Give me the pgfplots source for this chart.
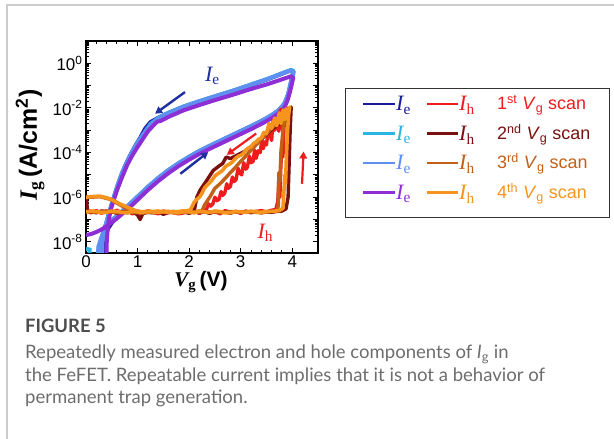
\documentclass[border=0pt]{standalone}
\usepackage{fontspec}
\setmainfont{Liberation Sans}
\newfontfamily\tnr{Liberation Serif}
\newfontfamily\capfont{Lato}
\usepackage{pgfplots}
\pgfplotsset{compat=1.18}
\usetikzlibrary{arrows.meta}
\definecolor{ieA}{HTML}{1A1A9C}
\definecolor{ieB}{HTML}{2BB5E5}
\definecolor{ieC}{HTML}{5F8FF0}
\definecolor{ieD}{HTML}{8E2FD6}
\definecolor{ihA}{HTML}{EE1C1C}
\definecolor{ihB}{HTML}{7B1010}
\definecolor{ihC}{HTML}{C2601A}
\definecolor{ihD}{HTML}{F7941D}
\definecolor{arrblue}{HTML}{1F2FA0}
\definecolor{capgray}{HTML}{6D6D6D}
\definecolor{capdark}{HTML}{4D4D4D}
\begin{document}
\begin{tikzpicture}[x=1bp,y=1bp]
\path[use as bounding box] (0,0) rectangle (614,439);
\fill[white] (0,0) rectangle (614,439);
\draw[black!20, line width=1.2bp] (7,0) -- (7,434) -- (614,434);
\begin{axis}[at={(86bp,186bp)}, anchor=south west, scale only axis,
  width=232bp, height=212bp,
  xmin=0, xmax=4.5, ymode=log, ymin=3.162e-9, ymax=10,
  axis line style={line width=1.8bp},
  every tick/.style={black, line width=0.9bp},
  major tick length=5bp, minor tick length=3bp,
  xtick={0,1,2,3,4}, xticklabels={0,1,2,3,4}, minor x tick num=4,
  ytick={1e-8,1e-7,1e-6,1e-5,1e-4,1e-3,1e-2,1e-1,1,10},
  yticklabels={10\textsuperscript{-8},,10\textsuperscript{-6},,10\textsuperscript{-4},,10\textsuperscript{-2},,10\textsuperscript{0},},
  tick label style={font=\fontsize{17}{17}\selectfont},
  xticklabel style={yshift=1bp},
]
% ---- Ie curves
\addplot[ieA, line width=4bp, line join=round] coordinates {
(0.33,3e-10) (0.35,1.0e-8) (0.40,3.2e-8) (0.50,7.0e-8) (0.60,1.35e-7) (0.80,3.7e-7) (1.00,1.02e-6) (1.20,2.8e-6) (1.40,7.0e-6) (1.60,1.6e-5) (1.80,3.3e-5) (2.00,6.3e-5) (2.20,1.15e-4) (2.40,1.95e-4) (2.60,3.25e-4) (2.80,5.4e-4) (3.00,9.0e-4) (3.20,1.5e-3) (3.40,2.55e-3) (3.60,4.6e-3) (3.75,8.2e-3) (3.85,1.55e-2) (3.92,3.9e-2) (3.97,0.11) (4.01,0.30) (4.02,0.43) (3.97,0.48) (3.90,0.42)
(3.80,0.34) (3.50,0.185) (3.20,0.108) (2.86,5.9e-2) (2.50,3.25e-2) (2.20,1.95e-2) (1.90,1.15e-2) (1.60,6.0e-3) (1.40,3.6e-3) (1.25,2.3e-3) (1.15,1.2e-3) (1.05,4.5e-4) (0.95,1.9e-4) (0.85,7.0e-5) (0.75,2.3e-5) (0.65,5.5e-6) (0.55,1.1e-6) (0.45,2.0e-7) (0.36,3.5e-8) (0.30,1.0e-8) (0.28,3e-10)};
\addplot[ieB, line width=4bp, line join=round] coordinates {
(0.28,3e-10) (0.30,1.0e-8) (0.35,3.16e-8) (0.45,7.94e-8) (0.60,1.41e-7) (0.80,3.80e-7) (1.00,1.05e-6) (1.20,2.88e-6) (1.40,7.24e-6) (1.60,1.62e-5) (1.80,3.39e-5) (2.00,6.46e-5) (2.20,1.17e-4) (2.40,2.00e-4) (2.60,3.31e-4) (2.80,5.50e-4) (3.00,9.12e-4) (3.20,1.51e-3) (3.40,2.57e-3) (3.60,4.68e-3) (3.75,8.32e-3) (3.85,1.58e-2) (3.92,3.98e-2) (3.97,0.112) (4.02,0.316) (4.03,0.447) (3.98,0.501) (3.90,0.437)
(3.80,0.355) (3.50,0.191) (3.20,0.112) (2.86,6.03e-2) (2.50,3.31e-2) (2.20,2.00e-2) (1.90,1.17e-2) (1.60,6.03e-3) (1.40,3.55e-3) (1.25,1.91e-3) (1.12,7.08e-4) (1.00,2.82e-4) (0.90,1.12e-4) (0.80,3.98e-5) (0.70,1.26e-5) (0.60,2.82e-6) (0.50,5.01e-7) (0.40,7.94e-8) (0.32,2.00e-8) (0.25,6.31e-9) (0.22,3e-10)};
\addplot[ieB, line width=4bp] coordinates {(0.00,5.0e-9) (0.07,4.5e-9) (0.08,3e-10)};
\addplot[ieC, line width=4bp, line join=round] coordinates {
(0.30,3e-10) (0.32,1.0e-8) (0.37,3.2e-8) (0.46,8.0e-8) (0.60,1.45e-7) (0.80,3.9e-7) (1.00,1.07e-6) (1.20,2.9e-6) (1.40,7.3e-6) (1.60,1.65e-5) (1.80,3.4e-5) (2.00,6.5e-5) (2.20,1.18e-4) (2.40,2.0e-4) (2.60,3.35e-4) (2.80,5.6e-4) (3.00,9.2e-4) (3.20,1.53e-3) (3.40,2.6e-3) (3.60,4.7e-3) (3.75,8.4e-3) (3.85,1.6e-2) (3.92,4.0e-2) (3.96,0.11) (4.00,0.30) (4.02,0.42) (3.98,0.47) (3.90,0.42)
(3.80,0.35) (3.50,0.19) (3.20,0.11) (2.86,6.0e-2) (2.50,3.3e-2) (2.20,2.0e-2) (1.90,1.15e-2) (1.60,5.8e-3) (1.40,3.4e-3) (1.25,1.8e-3) (1.12,6.8e-4) (1.00,2.7e-4) (0.90,1.1e-4) (0.80,3.9e-5) (0.70,1.25e-5) (0.60,2.8e-6) (0.50,5.0e-7) (0.40,7.5e-8) (0.30,1.6e-8) (0.24,6.0e-9) (0.21,3e-10)};
\addplot[ieD, line width=4bp, line join=round] coordinates {
(0.00,2.00e-8) (0.10,2.24e-8) (0.20,2.75e-8) (0.30,3.55e-8) (0.40,5.01e-8) (0.50,7.41e-8) (0.60,1.12e-7) (0.70,1.78e-7) (0.80,2.82e-7) (0.90,4.57e-7) (1.00,7.59e-7) (1.20,2.09e-6) (1.40,5.25e-6) (1.60,1.20e-5) (1.80,2.51e-5) (2.00,4.79e-5) (2.20,8.71e-5) (2.40,1.48e-4) (2.60,2.45e-4) (2.80,4.07e-4) (3.00,6.76e-4) (3.20,1.12e-3) (3.40,1.91e-3) (3.60,3.47e-3) (3.75,6.03e-3) (3.85,1.05e-2) (3.91,2.24e-2) (3.96,5.62e-2) (4.00,0.141) (4.02,0.224) (3.98,0.263) (3.90,0.229)
(3.80,0.191) (3.50,0.112) (3.20,7.08e-2) (2.86,3.98e-2) (2.50,2.24e-2) (2.20,1.35e-2) (1.90,7.94e-3) (1.60,3.98e-3) (1.45,2.63e-3) (1.38,2.40e-3) (1.30,1.58e-3) (1.20,8.91e-4) (1.10,3.98e-4) (1.00,1.78e-4) (0.90,7.59e-5) (0.80,2.82e-5) (0.70,7.94e-6) (0.60,2.00e-6) (0.50,3.98e-7) (0.45,1.26e-7) (0.42,3.55e-8) (0.40,7.94e-9) (0.40,3e-10)};
% ---- Ih curves
\addplot[ihA, line width=3.4bp, line join=round] coordinates {
(0.0,2.4e-7) (0.05,2.2e-7) (0.1,2.0e-7) (0.15,2.3e-7) (0.2,2.5e-7) (0.3,1.9e-7) (0.35,2.2e-7) (0.4,2.4e-7) (0.5,2.1e-7) (0.55,2.3e-7) (0.6,2.6e-7) (0.7,2.0e-7) (0.8,2.3e-7) (0.85,2.1e-7) (0.9,1.8e-7) (1.0,2.4e-7) (1.1,2.0e-7) (1.15,2.2e-7) (1.2,2.5e-7) (1.3,2.1e-7) (1.4,1.8e-7) (1.5,2.4e-7) (1.6,2.0e-7) (1.7,2.2e-7) (1.8,1.9e-7) (1.9,2.5e-7) (2.0,2.1e-7) (2.1,2.3e-7) (2.2,1.9e-7) (2.3,2.4e-7) (2.4,2.0e-7) (2.5,2.3e-7) (2.6,1.8e-7) (2.7,2.5e-7) (2.8,2.1e-7) (2.9,2.3e-7) (3.0,1.9e-7) (3.1,2.4e-7) (3.2,2.0e-7) (3.3,2.3e-7) (3.4,2.5e-7) (3.5,2.2e-7) (3.6,2.6e-7) (3.68,2.8e-7) (3.72,6.3e-7) (3.74,6.3e-6) (3.76,1.0e-6) (3.78,2.5e-5) (3.80,2.5e-4) (3.82,6.3e-5) (3.84,1.26e-3) (3.86,7.9e-3)
(3.84,2.0e-3) (3.82,6.0e-3) (3.79,1.2e-3) (3.77,8.5e-3) (3.74,9.0e-4) (3.72,3.0e-3) (3.69,1.5e-3) (3.66,1.0e-3) (3.63,2.8e-3) (3.60,3.5e-4) (3.57,6.0e-4) (3.54,1.4e-3) (3.50,2.2e-4) (3.47,3.0e-4) (3.44,1.5e-4) (3.41,4.0e-4) (3.38,1.0e-4) (3.34,1.2e-4) (3.30,5.5e-5) (3.27,1.3e-4) (3.24,4.0e-5) (3.20,3.5e-5) (3.17,7.0e-5) (3.13,2.2e-5) (3.10,1.8e-5) (3.06,3.5e-5) (3.02,1.0e-5) (2.98,1.2e-5) (2.95,2.0e-5) (2.91,6.0e-6) (2.87,5.0e-6) (2.84,8.0e-6) (2.80,3.0e-6) (2.76,2.5e-6) (2.73,4.0e-6) (2.69,1.5e-6) (2.65,1.2e-6) (2.62,1.8e-6) (2.58,8.0e-7) (2.54,7.0e-7) (2.50,1.0e-6) (2.46,5.0e-7) (2.42,4.0e-7) (2.38,5.0e-7) (2.34,3.0e-7) (2.30,2.4e-7) (2.2,2.0e-7) (2.1,2.3e-7) (2.0,2.5e-7) (1.9,2.0e-7) (1.8,1.8e-7) (1.6,2.2e-7) (1.4,2.0e-7) (1.2,2.4e-7) (1.0,1.9e-7) (0.8,2.3e-7) (0.6,2.0e-7) (0.4,2.4e-7) (0.2,2.1e-7) (0.0,2.5e-7)};
\addplot[ihB, line width=3.4bp, line join=round] coordinates {
(0.0,1.26e-6) (0.03,2.5e-7) (0.1,2.2e-7) (0.2,2.0e-7) (0.3,2.4e-7) (0.4,2.1e-7) (0.5,2.3e-7) (0.6,1.9e-7) (0.7,2.2e-7) (0.8,2.0e-7) (0.9,2.3e-7) (1.0,1.6e-7) (1.05,1.0e-7) (1.1,1.8e-7) (1.2,2.2e-7) (1.3,2.0e-7) (1.4,2.3e-7) (1.5,1.7e-7) (1.6,2.1e-7) (1.7,2.3e-7) (1.8,2.0e-7) (1.9,2.2e-7) (2.0,1.9e-7) (2.1,2.3e-7) (2.2,2.0e-7) (2.3,2.2e-7) (2.4,1.9e-7) (2.5,2.3e-7) (2.6,2.1e-7) (2.7,2.2e-7) (2.8,1.9e-7) (2.9,2.3e-7) (3.0,2.0e-7) (3.1,2.2e-7) (3.2,2.1e-7) (3.3,2.3e-7) (3.4,2.0e-7) (3.5,2.2e-7) (3.6,2.1e-7) (3.7,2.3e-7) (3.8,2.4e-7) (3.88,3.0e-7) (3.92,1.0e-6) (3.94,3.2e-5) (3.96,1.0e-3) (3.98,1.1e-2)
(3.95,4.0e-3) (3.92,8.0e-3) (3.88,2.5e-3) (3.85,5.0e-3) (3.80,2.2e-3) (3.70,1.6e-3) (3.60,1.1e-3) (3.50,6.5e-4) (3.38,3.5e-4) (3.20,1.8e-4) (3.05,1.05e-4) (2.90,7.0e-5) (2.80,5.4e-5) (2.72,6.3e-5) (2.65,3.2e-5) (2.60,2.7e-5) (2.47,1.6e-5) (2.34,5.6e-6) (2.21,2.0e-6) (2.15,1.0e-6) (2.10,2.5e-7) (2.0,2.1e-7) (1.9,2.3e-7)};
\addplot[ihC, line width=3.4bp, line join=round] coordinates {
(0.0,2.3e-7) (0.2,2.1e-7) (0.4,2.4e-7) (0.6,2.0e-7) (0.8,2.2e-7) (1.0,2.0e-7) (1.2,2.3e-7) (1.4,2.1e-7) (1.6,2.2e-7) (1.8,2.0e-7) (2.0,2.3e-7) (2.2,2.1e-7) (2.4,2.2e-7) (2.6,2.0e-7) (2.8,2.3e-7) (3.0,2.1e-7) (3.2,2.2e-7) (3.4,2.0e-7) (3.6,2.3e-7) (3.70,2.4e-7) (3.73,4.0e-7) (3.74,1.26e-5) (3.76,5.0e-6) (3.78,1.0e-4) (3.82,1.0e-3) (3.86,4.0e-3) (3.90,1.0e-2)
(3.88,4.0e-3) (3.80,4.0e-3) (3.70,2.0e-3) (3.60,1.26e-3) (3.50,7.0e-4) (3.40,4.0e-4) (3.30,2.2e-4) (3.20,1.26e-4) (3.10,7.0e-5) (3.00,4.0e-5) (2.90,2.2e-5) (2.80,1.26e-5) (2.70,7.0e-6) (2.60,4.0e-6) (2.50,2.5e-6) (2.40,1.0e-6) (2.30,4.5e-7) (2.25,2.5e-7) (2.0,2.1e-7) (1.6,2.3e-7) (1.2,2.0e-7) (0.9,2.3e-7) (0.8,3.0e-7) (0.66,4.5e-7) (0.47,8.0e-7) (0.27,1.05e-6) (0.1,1.0e-6) (0.0,9.5e-7)};
\addplot[ihD, line width=3.6bp, line join=round] coordinates {
(0.0,2.2e-7) (0.1,2.4e-7) (0.2,2.3e-7) (0.3,2.0e-7) (0.4,2.1e-7) (0.5,2.4e-7) (0.6,2.3e-7) (0.7,2.1e-7) (0.8,2.0e-7) (0.9,2.3e-7) (1.0,2.2e-7) (1.1,2.0e-7) (1.2,2.4e-7) (1.3,2.2e-7) (1.4,2.1e-7) (1.5,2.3e-7) (1.6,2.3e-7) (1.7,2.0e-7) (1.8,2.0e-7) (1.9,2.3e-7) (2.0,2.2e-7) (2.1,2.0e-7) (2.2,2.4e-7) (2.3,2.2e-7) (2.4,2.1e-7) (2.5,2.4e-7) (2.6,2.3e-7) (2.7,2.0e-7) (2.8,2.0e-7) (2.9,2.3e-7) (3.0,2.2e-7) (3.1,2.1e-7) (3.2,2.4e-7) (3.3,2.2e-7) (3.4,2.1e-7) (3.5,2.3e-7) (3.6,2.3e-7) (3.75,2.5e-7) (3.82,3.2e-7) (3.84,2.0e-6) (3.86,1.0e-5) (3.87,4.0e-6) (3.89,1.0e-4) (3.91,1.0e-3) (3.93,5.0e-3) (3.95,1.1e-2)
(3.92,3.5e-3) (3.88,9.0e-3) (3.85,3.0e-3) (3.82,8.0e-3) (3.78,2.0e-3) (3.75,6.0e-3) (3.70,1.6e-3) (3.66,3.5e-3) (3.60,1.2e-3) (3.55,2.0e-3) (3.50,7.0e-4) (3.45,8.0e-4) (3.40,4.5e-4) (3.35,4.0e-4) (3.30,3.0e-4) (3.25,2.6e-4) (3.20,1.8e-4) (3.15,1.6e-4) (3.10,1.3e-4) (3.05,9.0e-5) (3.00,7.5e-5) (2.95,6.8e-5) (2.90,5.5e-5) (2.85,4.0e-5) (2.80,3.2e-5) (2.75,2.8e-5) (2.70,2.3e-5) (2.65,1.6e-5) (2.60,1.3e-5) (2.55,1.1e-5) (2.50,9.0e-6) (2.45,6.0e-6) (2.40,4.5e-6) (2.35,3.5e-6) (2.30,2.6e-6) (2.25,1.5e-6) (2.20,1.0e-6) (2.15,8.0e-7) (2.10,6.0e-7) (2.05,3.5e-7) (2.02,2.6e-7) (1.8,2.3e-7) (1.6,2.1e-7) (1.4,2.4e-7) (1.2,2.2e-7) (1.0,2.3e-7) (0.85,3.2e-7) (0.66,5.0e-7) (0.47,8.5e-7) (0.27,1.12e-6) (0.10,1.06e-6) (0.0,1.0e-6)};
% arrows and labels
\draw[-{Triangle[length=7bp,width=7.5bp]}, line width=2.4bp, arrblue] (axis cs:1.92,5.13e-2) -- (axis cs:1.34,5.5e-3);
\draw[-{Triangle[length=7bp,width=7.5bp]}, line width=2.4bp, arrblue] (axis cs:1.83,1.12e-5) -- (axis cs:2.37,1.05e-4);
\draw[-{Triangle[length=7bp,width=7.5bp]}, line width=2.2bp, ihA] (axis cs:3.30,7.1e-4) -- (axis cs:2.73,7.9e-5);
\draw[-{Triangle[length=7bp,width=7.5bp]}, line width=2.2bp, ihA] (axis cs:4.19,4.0e-6) -- (axis cs:4.22,1.12e-4);
\node[text=arrblue, font=\fontsize{22}{22}\selectfont] at (axis cs:2.45,0.28) {\tnr\itshape I\textsubscript{\upshape e}};
\node[text=ihA, font=\fontsize{22}{22}\selectfont] at (axis cs:3.48,2.5e-8) {\tnr\itshape I\textsubscript{\upshape h}};
\end{axis}
% axis labels
\node[rotate=90, font=\fontsize{25}{25}\selectfont] at (30,294) {{\tnr\bfseries\itshape I}\textsubscript{\tnr\bfseries g}\,\bfseries (A/cm\textsuperscript{2})};
\node[font=\fontsize{21}{21}\selectfont] at (201,157) {{\tnr\bfseries\itshape V}\textsubscript{\tnr\bfseries g}\,\bfseries (V)};
% legend
\draw[black!80, line width=1bp] (345,350) rectangle (609,221);
\foreach \yy/\ce/\ch/\lab in {335/ieA/ihA/{1\textsuperscript{st}}, 305.5/ieB/ihB/{2\textsuperscript{nd}}, 276/ieC/ihC/{3\textsuperscript{rd}}, 246.5/ieD/ihD/{4\textsuperscript{th}}}{
  \draw[\ce, line width=2.2bp] (363,\yy) -- (395,\yy);
  \node[anchor=base west, inner sep=0pt, text=\ce, font=\fontsize{22}{22}\selectfont] at (396,\yy-7) {\tnr\itshape I\textsubscript{\upshape e}};
  \draw[\ch, line width=2.2bp] (427,\yy) -- (458,\yy);
  \node[anchor=base west, inner sep=0pt, text=\ch, font=\fontsize{22}{22}\selectfont] at (459,\yy-7) {\tnr\itshape I\textsubscript{\upshape h}};
  \node[anchor=base west, inner sep=0pt, text=\ch, font=\fontsize{18}{18}\selectfont] at (497,\yy-6) {\lab\ \textit{V}\textsubscript{g} scan};
}
% caption
\node[anchor=base west, inner sep=0pt, text=capdark, font=\capfont\bfseries\fontsize{18.5}{18.5}\selectfont] at (25,106) {FIGURE 5};
\node[anchor=base west, inner sep=0pt, text=capgray, font=\capfont\fontsize{18.6}{18.6}\selectfont] at (25,80) {Repeatedly measured electron and hole components of \textit{I}\textsubscript{g} in};
\node[anchor=base west, inner sep=0pt, text=capgray, font=\capfont\fontsize{18.6}{18.6}\selectfont] at (25,57) {the FeFET. Repeatable current implies that it is not a behavior of};
\node[anchor=base west, inner sep=0pt, text=capgray, font=\capfont\fontsize{18.6}{18.6}\selectfont] at (25,35) {permanent trap generation.};
\end{tikzpicture}
\end{document}
